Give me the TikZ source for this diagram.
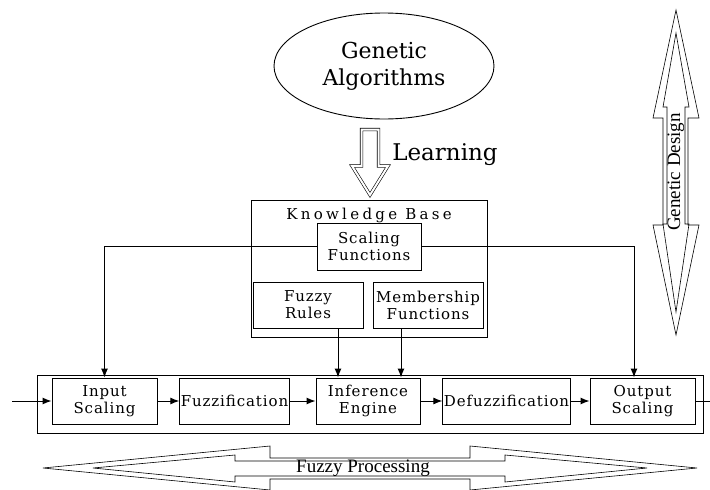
\documentclass[tikz,border=0pt]{standalone}
\usepackage{fontspec}
\setmainfont{DejaVu Serif}
\newfontfamily\boxfont[LetterSpace=6]{DejaVu Serif}
\newfontfamily\titlefont[LetterSpace=22]{DejaVu Serif}
\newfontfamily\timesfont{Liberation Serif}
\usetikzlibrary{arrows.meta,shapes.geometric,calc}

\begin{document}
\begin{tikzpicture}[x=1pt,y=-1pt,
  blk/.style={draw,line width=1pt,minimum height=46pt,inner sep=1pt,align=center,
    font=\boxfont\fontsize{15}{17}\selectfont},
  frame/.style={draw,line width=1pt,inner sep=0pt},
  flow/.style={-{Latex[length=9pt,width=7pt]},line width=1pt},
  hollow/.style={line width=0.6pt,line join=miter}]
  \useasboundingbox (0,0) rectangle (710,490);
  % Genetic algorithms and learning
  \node[draw,ellipse,line width=0.9pt,inner sep=0pt,minimum width=220pt,minimum height=106pt,
    align=center,font=\fontsize{22}{27}\selectfont] (ga) at (384,66) {Genetic\\Algorithms};
  \draw[hollow,double,double distance=2pt]
    (361.5,129.5) -- (378.5,129.5) -- (378.5,166) -- (388,166) -- (370,195)
    -- (352,166) -- (361.5,166) -- cycle;
  \node[font=\fontsize{23}{27}\selectfont] (learn) at (445,155) {Learning};
  % Knowledge base
  \node[frame,minimum width=236pt,minimum height=137pt] (kb) at (369,268.5) {};
  \node[font=\titlefont\fontsize{15}{17}\selectfont] (kbt) at (369,215) {Knowledge Base};
  \node[blk,minimum width=104pt,minimum height=47pt] (sf) at (369,246.5) {Scaling\\Functions};
  \node[blk,minimum width=110pt] (fr) at (308,305) {Fuzzy\\Rules};
  \node[blk,minimum width=110pt] (mf) at (428,305) {Membership\\Functions};
  % Fuzzy processing chain
  \node[frame,minimum width=666pt,minimum height=58pt] (fp) at (370,404) {};
  \node[blk,minimum width=105pt] (ins) at (104.5,401) {Input\\Scaling};
  \node[blk,minimum width=109pt] (fz) at (234.5,401) {Fuzzification};
  \node[blk,minimum width=104pt] (ie) at (368,401) {Inference\\Engine};
  \node[blk,minimum width=121pt] (dfz) at (506.5,401) {Defuzzification};
  \node[blk,minimum width=105pt] (outs) at (642.5,401) {Output\\Scaling};
  \coordinate (in) at (12,401);
  \coordinate (out) at (712,401);
  \draw[flow] (in) -- (ins);
  \draw[flow] (ins) -- (fz);
  \draw[flow] (fz) -- (ie);
  \draw[flow] (ie) -- (dfz);
  \draw[flow] (dfz) -- (outs);
  \draw[line width=1pt] (outs) -- (out);
  \draw[flow] (sf.west) -| (ins.north);
  \draw[flow] (sf.east) -| ([xshift=-8.5pt]outs.north);
  \draw[flow] ([xshift=30pt]fr.south) -- ([xshift=30pt]fr.south |- ie.north);
  \draw[flow] ([xshift=-27pt]mf.south) -- ([xshift=-27pt]mf.south |- ie.north);
  % Fuzzy processing arrow
  \draw[hollow] (43,468) -- (270,446) -- (270,458) -- (470,458) -- (470,446) -- (697,468)
    -- (470,490) -- (470,479) -- (270,479) -- (270,490) -- cycle;
  \draw[hollow] (93,468) -- (235,455) -- (235,461) -- (505,461) -- (505,455) -- (647,468)
    -- (505,482) -- (505,476) -- (235,476) -- (235,482) -- cycle;
  \node[font=\timesfont\fontsize{19}{22}\selectfont] (fpl) at (363,468) {Fuzzy Processing};
  % Genetic design arrow
  \draw[hollow] (676,10) -- (699,118) -- (688,118) -- (688,225) -- (699,225) -- (676,335)
    -- (653,225) -- (663,225) -- (663,118) -- (653,118) -- cycle;
  \draw[hollow] (676,33) -- (689,107) -- (685,107) -- (685,224) -- (689,224) -- (676,312)
    -- (663,224) -- (667,224) -- (667,107) -- (663,107) -- cycle;
  \node[font=\timesfont\fontsize{19}{22}\selectfont,rotate=90] (gdl) at (676,172) {Genetic Design};
\end{tikzpicture}
\end{document}
